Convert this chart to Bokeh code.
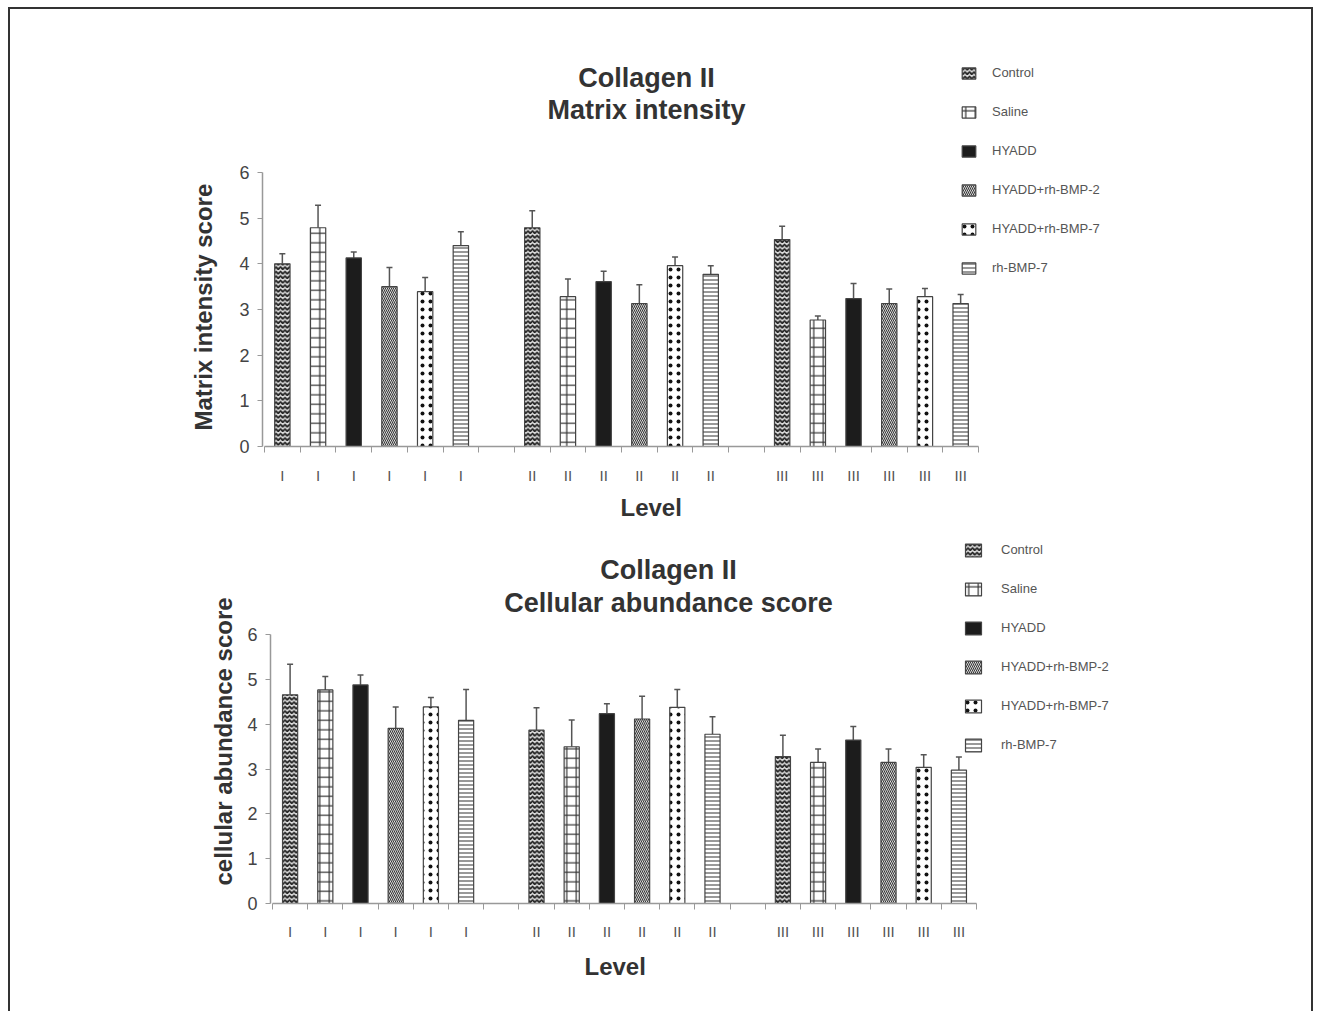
from bokeh.plotting import figure
from bokeh.models import (ColumnDataSource, Range1d, FixedTicker, Whisker, TeeHead,
                          Legend, LegendItem, Title, Label)
from bokeh.layouts import column, row
from bokeh.embed import file_html
from bokeh.resources import INLINE

# ---------------- data ----------------
levels = ["I", "II", "III"]
groups = ["Control", "Saline", "HYADD", "HYADD+rh-BMP-2", "HYADD+rh-BMP-7", "rh-BMP-7"]

# Matrix intensity score (levels I, II, III)
matrix_control = [4.00, 4.79, 4.53]
matrix_saline = [4.79, 3.28, 2.77]
matrix_hyadd = [4.13, 3.61, 3.24]
matrix_bmp2 = [3.50, 3.13, 3.13]
matrix_bmp7 = [3.39, 3.96, 3.28]
matrix_rhbmp7 = [4.40, 3.77, 3.13]

matrix_control_err = [0.22, 0.37, 0.29]
matrix_saline_err = [0.49, 0.39, 0.09]
matrix_hyadd_err = [0.13, 0.23, 0.33]
matrix_bmp2_err = [0.42, 0.41, 0.32]
matrix_bmp7_err = [0.31, 0.19, 0.18]
matrix_rhbmp7_err = [0.30, 0.19, 0.20]

# Cellular abundance score (levels I, II, III)
cell_control = [4.66, 3.87, 3.28]
cell_saline = [4.77, 3.50, 3.15]
cell_hyadd = [4.88, 4.24, 3.65]
cell_bmp2 = [3.91, 4.12, 3.15]
cell_bmp7 = [4.39, 4.38, 3.04]
cell_rhbmp7 = [4.09, 3.78, 2.98]

cell_control_err = [0.68, 0.50, 0.48]
cell_saline_err = [0.30, 0.60, 0.30]
cell_hyadd_err = [0.22, 0.22, 0.30]
cell_bmp2_err = [0.48, 0.51, 0.30]
cell_bmp7_err = [0.21, 0.40, 0.28]
cell_rhbmp7_err = [0.69, 0.39, 0.29]

y_ticks = [0, 1, 2, 3, 4, 5, 6]

matrix_means = [matrix_control, matrix_saline, matrix_hyadd, matrix_bmp2, matrix_bmp7, matrix_rhbmp7]
matrix_errs = [matrix_control_err, matrix_saline_err, matrix_hyadd_err,
               matrix_bmp2_err, matrix_bmp7_err, matrix_rhbmp7_err]
cell_means = [cell_control, cell_saline, cell_hyadd, cell_bmp2, cell_bmp7, cell_rhbmp7]
cell_errs = [cell_control_err, cell_saline_err, cell_hyadd_err,
             cell_bmp2_err, cell_bmp7_err, cell_rhbmp7_err]

# ---------------- styles ----------------
FONT = "Liberation Sans"
OUT = "#444444"
group_styles = [
    dict(fill_color="#dddddd", hatch_pattern="horizontal_wave", hatch_color="#222222",
         hatch_scale=4.5, hatch_weight=1.8),
    dict(fill_color="white", hatch_pattern="cross", hatch_color="#333333",
         hatch_scale=9.5, hatch_weight=1.2),
    dict(fill_color="#1c1c1c"),
    dict(fill_color="white", hatch_pattern="left_diagonal_line", hatch_color="#333333",
         hatch_scale=4, hatch_weight=1.1),
    dict(fill_color="white", hatch_pattern="dot", hatch_color="#111111",
         hatch_scale=8, hatch_weight=3),
    dict(fill_color="white", hatch_pattern="horizontal_line", hatch_color="#444444",
         hatch_scale=4, hatch_weight=1.1),
]

SLOTS_PER_LEVEL = len(groups) + 1
N_SLOTS = len(levels) * SLOTS_PER_LEVEL - 1
OX = 10       # page x of the figures' left edge (8px margin + 2px border)
W = 1301      # figure width
FRAME_RIGHT = 1130


def build(means, errs, title_lines, ylabel, y0, H, left, zero_px, top, bottom, slot, unit,
          title_px, legend_px, glyph_w, glyph_h, label_standoff, tick_standoff,
          ylab_px, xlab_px):
    right = FRAME_RIGHT
    p = figure(width=W, height=H,
               x_range=Range1d((left - zero_px) / slot, (right - zero_px) / slot),
               y_range=Range1d(0, (bottom - top) / unit),
               output_backend="svg", toolbar_location=None,
               min_border_left=left - OX, min_border_right=OX + W - right,
               min_border_top=top - y0, min_border_bottom=y0 + H - bottom)
    p.outline_line_color = None
    p.xgrid.visible = False
    p.ygrid.visible = False

    def dx(px):
        return (px - zero_px) / slot

    def dy(py):
        return (bottom - py) / unit

    items = []
    for gi, (g, st) in enumerate(zip(groups, group_styles)):
        xs = [li * SLOTS_PER_LEVEL + gi + 0.5 for li in range(len(levels))]
        tops = means[gi]
        ups = [m + e for m, e in zip(means[gi], errs[gi])]
        src = ColumnDataSource(dict(x=xs, top=tops, up=ups))
        w = Whisker(source=src, base="x", lower="top", upper="up", dimension="height",
                    line_color="#555555", line_width=1.5, lower_head=None,
                    upper_head=TeeHead(size=6, line_color="#555555", line_width=1.5))
        p.add_layout(w)
        r = p.vbar(x="x", top="top", bottom=0, width=0.43, source=src,
                   line_color=OUT, line_width=1.2, **st)
        items.append(LegendItem(label=g, renderers=[r]))

    # legend inside the (enlarged) frame; top-left corner given in page pixels
    lx, ly = legend_px
    n = len(groups)
    lab_h = 17
    spacing = 22
    leg_h = n * max(glyph_h, lab_h) + (n - 1) * spacing
    legend = Legend(items=items, location=(lx - left, bottom - (ly + leg_h)),
                    glyph_width=glyph_w, glyph_height=glyph_h, label_height=lab_h,
                    label_standoff=label_standoff, spacing=spacing, padding=0, margin=0,
                    border_line_color=None, background_fill_alpha=0,
                    label_text_font=FONT, label_text_font_size="13px",
                    label_text_color="#555555")
    p.add_layout(legend)

    # two-line chart title
    tx, tys = title_px
    for line, ty in zip(title_lines, tys):
        p.add_layout(Label(x=dx(tx), y=dy(ty), text=line, text_align="center",
                           text_baseline="middle", text_font=FONT, text_font_size="27px",
                           text_font_style="bold", text_color="#333333"))

    # x axis
    centers, labels = [], []
    for li, lev in enumerate(levels):
        for gi in range(len(groups)):
            centers.append(li * SLOTS_PER_LEVEL + gi + 0.5)
            labels.append(lev)
    xa = p.xaxis[0]
    xa.ticker = FixedTicker(ticks=centers, minor_ticks=list(range(0, N_SLOTS + 1)))
    xa.major_label_overrides = {c: lab for c, lab in zip(centers, labels)}
    xa.bounds = (0, N_SLOTS)
    xa.major_tick_in = 0
    xa.major_tick_out = 0
    xa.minor_tick_in = 0
    xa.minor_tick_out = 6
    xa.minor_tick_line_color = "#999999"
    xa.axis_line_color = "#999999"
    xa.axis_line_width = 1.5
    xa.major_label_standoff = tick_standoff
    xa.major_label_text_font = FONT
    xa.major_label_text_font_size = "15px"
    xa.major_label_text_color = "#555555"

    # x axis title, placed from its left end
    p.add_layout(Title(text="Level", align="left", offset=xlab_px[0] - left,
                       vertical_align="top", standoff=xlab_px[1],
                       text_font=FONT, text_font_size="24px", text_font_style="bold",
                       text_color="#333333"), "below")

    # y axis
    ya = p.yaxis[0]
    ya.ticker = FixedTicker(ticks=y_ticks)
    ya.bounds = (0, 6)
    ya.axis_line_color = "#999999"
    ya.axis_line_width = 1.5
    ya.major_tick_in = 0
    ya.major_tick_out = 5
    ya.major_tick_line_color = "#999999"
    ya.minor_tick_line_color = None
    ya.major_label_standoff = 8
    ya.major_label_text_font = FONT
    ya.major_label_text_font_size = "18px"
    ya.major_label_text_color = "#444444"

    # y axis title, placed from its lower end
    p.add_layout(Title(text=ylabel, align="left", offset=bottom - ylab_px[0],
                       standoff=ylab_px[1],
                       text_font=FONT, text_font_size="24px", text_font_style="bold",
                       text_color="#333333"), "left")
    return p


p1 = build(matrix_means, matrix_errs, ["Collagen II", "Matrix intensity"], "Matrix intensity score",
           y0=9, H=525, left=262, zero_px=264, top=50, bottom=446, slot=35.7, unit=45.67,
           title_px=(646, (77, 109)), legend_px=(960, 64), glyph_w=17, glyph_h=14,
           label_standoff=15, tick_standoff=14, ylab_px=(430, 40), xlab_px=(620, 14))

p2 = build(cell_means, cell_errs, ["Collagen II", "Cellular abundance score"], "cellular abundance score",
           y0=534, H=477, left=270, zero_px=272, top=536, bottom=903, slot=35.2, unit=44.78,
           title_px=(668, (569, 602)), legend_px=(963, 541), glyph_w=20, glyph_h=16,
           label_standoff=18, tick_standoff=13, ylab_px=(885, 16), xlab_px=(584, 20))

layout = column(row(p1), row(p2), spacing=0,
                styles={"margin-left": "8px", "margin-top": "7px",
                        "border-top": "2px solid #333333",
                        "border-left": "2px solid #333333",
                        "border-right": "2px solid #333333"})

open("out.html", "w").write(file_html(layout, INLINE))
